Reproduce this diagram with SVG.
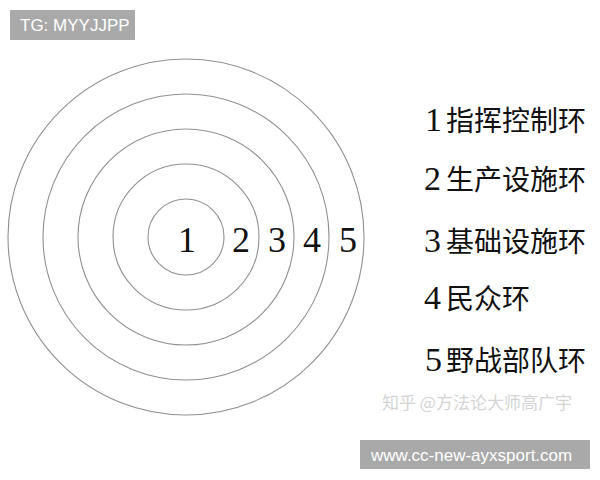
<svg xmlns="http://www.w3.org/2000/svg" width="600" height="480" viewBox="0 0 600 480">
<style>
.ring{fill:none;stroke:#909090;stroke-width:1.1}
.num{font-family:"Liberation Serif","Times New Roman",serif;font-size:36px;fill:#111}
.dig{font-family:"Liberation Serif","Times New Roman",serif;font-size:34px;fill:#111}
.cjk{font-family:"Noto Sans CJK SC",sans-serif;font-size:28px;fill:#111}
.wm{font-family:"Liberation Sans",Arial,sans-serif;font-size:17px;fill:#fff}
</style>
<rect width="600" height="480" fill="#fff"/>
<g id="rings">
<circle id="ring5" class="ring" cx="186" cy="237" r="178"/>
<circle id="ring4" class="ring" cx="186" cy="237" r="143"/>
<circle id="ring3" class="ring" cx="186" cy="237" r="108"/>
<circle id="ring2" class="ring" cx="186" cy="237" r="73"/>
<circle id="ring1" class="ring" cx="186" cy="237" r="38"/>
</g>
<g id="ring-numbers">
<text class="num" x="187" y="252" text-anchor="middle">1</text>
<text class="num" x="241" y="252" text-anchor="middle">2</text>
<text class="num" x="277" y="252" text-anchor="middle">3</text>
<text class="num" x="312" y="252" text-anchor="middle">4</text>
<text class="num" x="348" y="252" text-anchor="middle">5</text>
</g>
<g id="legend">
<g id="leg1"><text class="dig" x="425" y="131">1</text><text class="cjk" x="446" y="131">指挥控制环</text></g>
<g id="leg2"><text class="dig" x="424" y="190">2</text><text class="cjk" x="446" y="190">生产设施环</text></g>
<g id="leg3"><text class="dig" x="424" y="252">3</text><text class="cjk" x="446" y="252">基础设施环</text></g>
<g id="leg4"><text class="dig" x="424" y="309">4</text><text class="cjk" x="446" y="309">民众环</text></g>
<g id="leg5"><text class="dig" x="425" y="371">5</text><text class="cjk" x="446" y="371">野战部队环</text></g>
</g>
<text x="382" y="409" font-family="'Noto Sans CJK SC',sans-serif" font-size="17" fill="#d4d4d4">知乎 @方法论大师高广宇</text>
<g id="tag-top">
<rect x="10" y="10" width="125" height="30" fill="#a9a9a9"/>
<text class="wm" x="20" y="31">TG: MYYJJPP</text>
</g>
<g id="tag-bottom">
<rect x="360" y="440" width="230" height="29" fill="#a9a9a9"/>
<text class="wm" x="371" y="461">www.cc-new-ayxsport.com</text>
</g>
</svg>
